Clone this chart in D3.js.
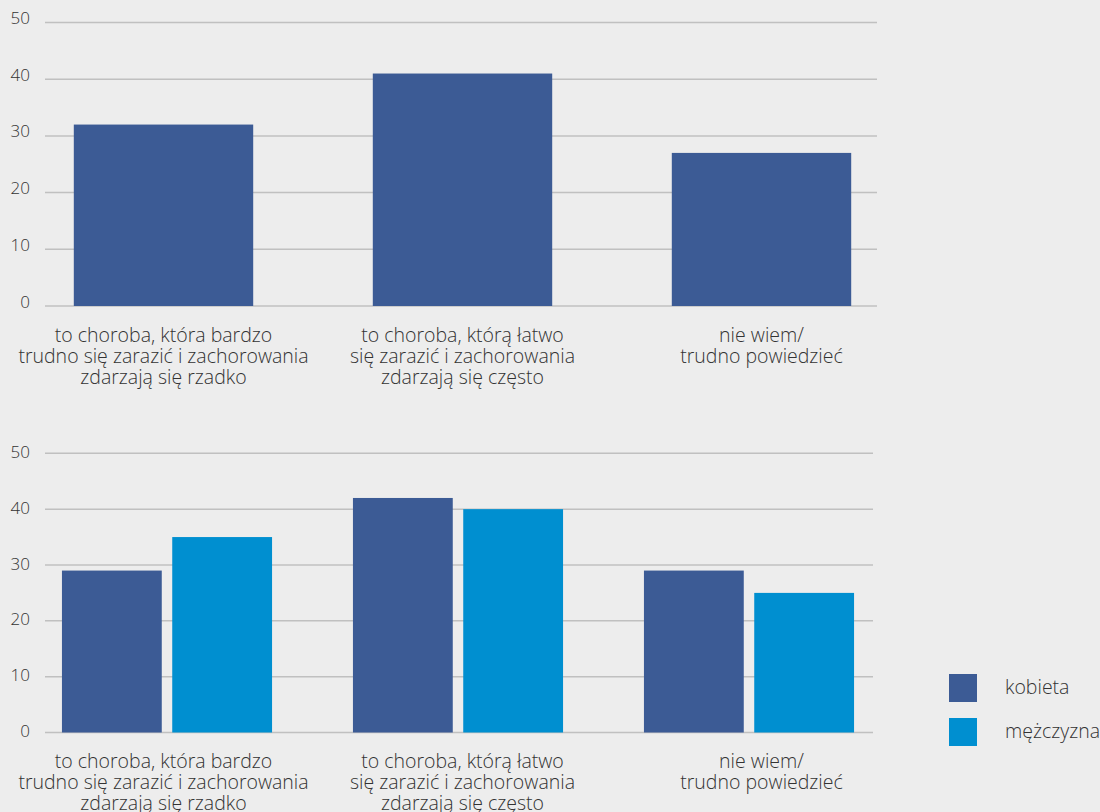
<!DOCTYPE html>
<html>
<head>
<meta charset="utf-8">
<script src="https://cdn.jsdelivr.net/npm/d3@7"></script>
<style>
  html, body { margin: 0; padding: 0; background: #ededed; }
  svg { display: block; }
  text { font-family: "Open Sans", "Noto Sans", sans-serif; font-weight: 300; fill: #333; }
</style>
</head>
<body>
<svg id="chart" width="1100" height="812"></svg>
<script>
// Answer categories (shared by both panels)
const categories = [
  ["to choroba, która bardzo", "trudno się zarazić i zachorowania", "zdarzają się rzadko"],
  ["to choroba, którą łatwo", "się zarazić i zachorowania", "zdarzają się często"],
  ["nie wiem/", "trudno powiedzieć"]
];
const categoryKeys = ["rzadko", "czesto", "niewiem"];

// Panel 1: all respondents (%)
const totalValues = [32, 41, 27];

// Panel 2: by sex (%)
const seriesNames = ["kobieta", "mężczyzna"];
const womenValues = [29, 42, 29];
const menValues = [35, 40, 25];

const yTicks = [0, 10, 20, 30, 40, 50];

const colors = { kobieta: "#3c5b95", "mężczyzna": "#008fd0" };
const gridColor = "#c0c0c0";

const svg = d3.select("#chart");

// Category positions used for the bars of panel 1 and the labels of both panels
const x1 = d3.scaleBand().domain(categoryKeys).range([14, 911])
  .paddingInner(0.4).paddingOuter(0.2);

function drawLabels(g, baseY) {
  const t = g.append("g").selectAll("text").data(categories).join("text")
    .attr("text-anchor", "middle")
    .attr("font-size", 19.5);
  t.each(function(lines, i) {
    const cx = x1(categoryKeys[i]) + x1.bandwidth() / 2;
    d3.select(this).selectAll("tspan").data(lines).join("tspan")
      .attr("x", cx)
      .attr("y", (d, j) => baseY + j * 20.8)
      .text(d => d);
  });
}

// ---------- Panel 1 ----------
const y1 = d3.scaleLinear().domain([0, 50]).range([306, 22.5]);

const p1 = svg.append("g");
p1.append("g").selectAll("line").data(yTicks).join("line")
  .attr("x1", 45).attr("x2", 877)
  .attr("y1", d => y1(d)).attr("y2", d => y1(d))
  .attr("stroke", gridColor).attr("stroke-width", 1.5);

p1.append("g").selectAll("text").data(yTicks).join("text")
  .attr("x", 30).attr("y", d => y1(d) - 3)
  .attr("text-anchor", "end").attr("dominant-baseline", "middle")
  .attr("font-size", 17)
  .text(d => d);

p1.append("g").selectAll("rect").data(totalValues).join("rect")
  .attr("x", (d, i) => x1(categoryKeys[i]))
  .attr("width", x1.bandwidth())
  .attr("y", d => y1(d))
  .attr("height", d => y1(0) - y1(d))
  .attr("fill", colors.kobieta);

drawLabels(p1, 342);

// ---------- Panel 2 ----------
const y2 = d3.scaleLinear().domain([0, 50]).range([732.5, 453.3]);
const x2 = d3.scaleBand().domain(categoryKeys).range([21.5, 894.5])
  .paddingInner(0.278).paddingOuter(0.139);
const xs = d3.scaleBand().domain(seriesNames).range([0, x2.bandwidth()])
  .paddingInner(0.095);

const p2 = svg.append("g");
p2.append("g").selectAll("line").data(yTicks).join("line")
  .attr("x1", 45).attr("x2", 873)
  .attr("y1", d => y2(d)).attr("y2", d => y2(d))
  .attr("stroke", gridColor).attr("stroke-width", 1.5);

p2.append("g").selectAll("text").data(yTicks).join("text")
  .attr("x", 30).attr("y", d => y2(d))
  .attr("text-anchor", "end").attr("dominant-baseline", "middle")
  .attr("font-size", 17)
  .text(d => d);

const grouped = categoryKeys.map((k, i) => ({
  key: k,
  values: [
    { name: "kobieta", value: womenValues[i] },
    { name: "mężczyzna", value: menValues[i] }
  ]
}));

p2.append("g").selectAll("g").data(grouped).join("g")
  .attr("transform", d => `translate(${x2(d.key)},0)`)
  .selectAll("rect").data(d => d.values).join("rect")
  .attr("x", d => xs(d.name))
  .attr("width", xs.bandwidth())
  .attr("y", d => y2(d.value))
  .attr("height", d => y2(0) - y2(d.value))
  .attr("fill", d => colors[d.name]);

drawLabels(p2, 768);

// Legend
const legend = svg.append("g").selectAll("g").data(seriesNames).join("g")
  .attr("transform", (d, i) => `translate(949,${674 + i * 44})`);
legend.append("rect")
  .attr("width", 28).attr("height", 28)
  .attr("fill", d => colors[d]);
legend.append("text")
  .attr("x", 56).attr("y", 15)
  .attr("dominant-baseline", "middle")
  .attr("font-size", 19.5)
  .text(d => d);
</script>
</body>
</html>
